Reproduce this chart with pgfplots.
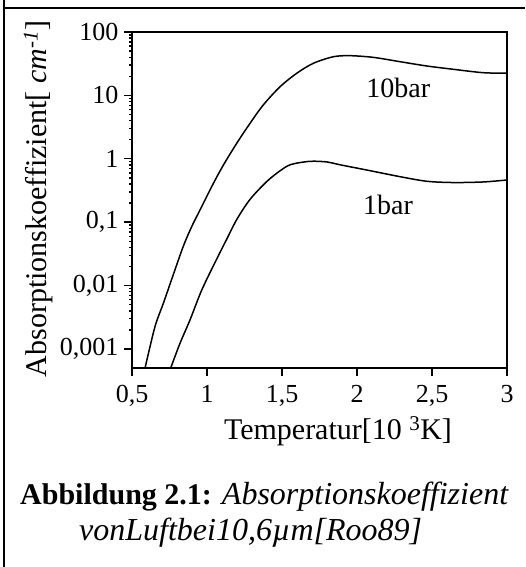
\documentclass[border=0pt]{standalone}
\usepackage{fontspec}
\setmainfont{Liberation Serif}[ItalicFont={Liberation Serif Italic},BoldFont={Liberation Serif Bold}]
\usepackage{pgfplots}
\pgfplotsset{compat=1.18}
\begin{document}
\begin{tikzpicture}[x=1pt,y=1pt]
\useasboundingbox (0,0) rectangle (525,567);
\draw[line width=2.2pt] (4,567) -- (4,559) -- (525,559);
\draw[line width=2.2pt] (4,0) -- (4,559);
\begin{axis}[
  at={(132pt,199pt)}, anchor=south west,
  scale only axis, width=375pt, height=336pt,
  xmin=0.5, xmax=3, ymode=log, ymin=5.01e-4, ymax=100,
  axis line style={line width=1.4pt},
  every tick/.style={black, line width=1.4pt},
  major tick length=8pt, tick align=outside,
  xtick pos=bottom, ytick pos=left,
  xtick={0.5,1,1.5,2,2.5,3},
  xticklabels={{0,5},1,{1,5},2,{2,5},3},
  ytick={0.001,0.01,0.1,1,10,100},
  yticklabels={{0,001},{0,01},{0,1},1,10,100},
  minor ytick={}, 
  tick label style={font=\fontsize{26}{30}\selectfont},
  xticklabel style={yshift=-6pt},
  yticklabel style={xshift=-2pt},
  clip=true,
]
\addplot[black, line width=1.5pt, smooth] coordinates {
(0.587,0.000501) (0.653,0.00224) (0.709,0.00525) (0.775,0.0148) (0.842,0.0417)
(0.898,0.0851) (0.953,0.155) (1.042,0.407) (1.109,0.794) (1.198,1.754)
(1.287,3.63) (1.375,7.06) (1.487,13.7) (1.598,22.3) (1.709,32.1)
(1.842,40.7) (1.953,42.3) (2.109,39.8) (2.287,34.0) (2.465,29.1)
(2.642,25.8) (2.842,22.8) (3.0,22.4)
};
\addplot[black, line width=1.5pt, smooth] coordinates {
(0.758,0.000501) (0.82,0.00123) (0.887,0.00288) (0.965,0.00851) (1.065,0.0263)
(1.131,0.0537) (1.20,0.112) (1.287,0.229) (1.398,0.437) (1.487,0.646)
(1.56,0.813) (1.687,0.912) (1.80,0.891) (1.887,0.804) (2.065,0.665)
(2.287,0.522) (2.465,0.442) (2.642,0.422) (2.842,0.431) (3.0,0.463)
};
\node[font=\fontsize{28}{32}\selectfont] at (axis cs:2.275,12.9) {10bar};
\node[font=\fontsize{28}{32}\selectfont] at (axis cs:2.207,0.186) {1bar};
\end{axis}
\node[anchor=base, font=\fontsize{30}{34}\selectfont] at (338,127) {Temperatur[10 \textsuperscript{3}K]};
\node[anchor=base, rotate=90, font=\fontsize{30}{34}\selectfont] at (46.7,368) {Absorptionskoeffizient[ \textit{cm}\textsuperscript{\textit{-1}}]};
\node[anchor=base west, inner sep=0pt] at (20,62) {\fontsize{30}{34}\selectfont\textbf{Abbildung 2.1:} \fontsize{32}{36}\selectfont\textit{Absorptionskoeffizient}};
\node[anchor=base west, inner sep=0pt, font=\fontsize{32}{36}\selectfont] at (79,26) {\textit{vonLuftbei10,6µm[Roo89]}};
\end{tikzpicture}
\end{document}
